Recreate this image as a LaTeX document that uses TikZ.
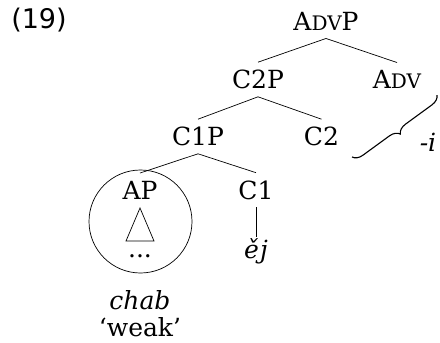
\documentclass[tikz,border=0pt]{standalone}
\usepackage{fontspec}
\setmainfont{DejaVu Serif}
\newfontfamily\numfont{DejaVu Sans}
\usepackage{tikz}
\usetikzlibrary{decorations.pathreplacing}
\newcommand{\tsize}{\fontsize{25}{28}\selectfont}
\newcommand{\scsize}[1]{{\fontsize{20}{22}\selectfont #1}}
\newcommand{\gap}{7.5pt}

\begin{document}
\begin{tikzpicture}[x=1pt,y=-1pt]
	\useasboundingbox (0,0) rectangle (440,343);
	\tikzset{cat/.style = {inner sep = \gap, font = \tsize},
		leaf/.style = {inner sep = 1pt, font = \tsize\itshape},
		every path/.style = {line width = 0.7pt}}
	%\draw[help lines] (0,0) grid[step=20] (440,343);
	\node[inner sep=0, font=\numfont\fontsize{27}{30}\selectfont] (num) at (39,20) {(19)};
	% the tree
	\node[cat] (advp) at (326,21.5) {A\scsize{DV}P};
	\node[cat] (c2p) at (258,79.5) {C2P};
	\node[cat] (adv) at (397,79.5) {A\scsize{DV}};
	\node[cat] (c1p) at (198,136.5) {C1P};
	\node[cat] (c2) at (321.5,136.5) {C2};
	\node[cat] (ap) at (140,190) {AP};
	\node[cat] (c1) at (256,190) {C1};
	\node[leaf, anchor=north] (ej) at (256,237) {ě\kern1pt j};
	\draw (advp.south) -- (c2p.north);
	\draw (advp.south) -- (adv.north);
	\draw (c2p.south) -- (c1p.north);
	\draw (c2p.south) -- (c2.north);
	\draw (c1p.south) -- (ap.north);
	\draw (c1p.south) -- (c1.north);
	\draw (c1.south) -- (ej.north);
	% roofed AP
	\coordinate (tri) at (140,208);
	\draw (tri) -- ++(-14,33) -- ++(28,0) -- cycle;
	\node[inner sep=0, font=\tsize] (dots) at (140,256) {...};
	\node[circle, draw, minimum size=103, inner sep=0] (ring) at (140.5,221.5) {};
	\node[leaf] (chab) at (140,300) {chab};
	\node[inner sep=1pt, font=\tsize] (weak) at (140,327) {`weak'};
	% suffix brace
	\coordinate (b1) at (437,95);
	\coordinate (b2) at (352,157);
	\draw[line width=1.1pt, decorate, decoration={brace, amplitude=10}] (b1) -- (b2);
	\node[leaf] (suf) at (428,142) {-i};
\end{tikzpicture}
\end{document}
